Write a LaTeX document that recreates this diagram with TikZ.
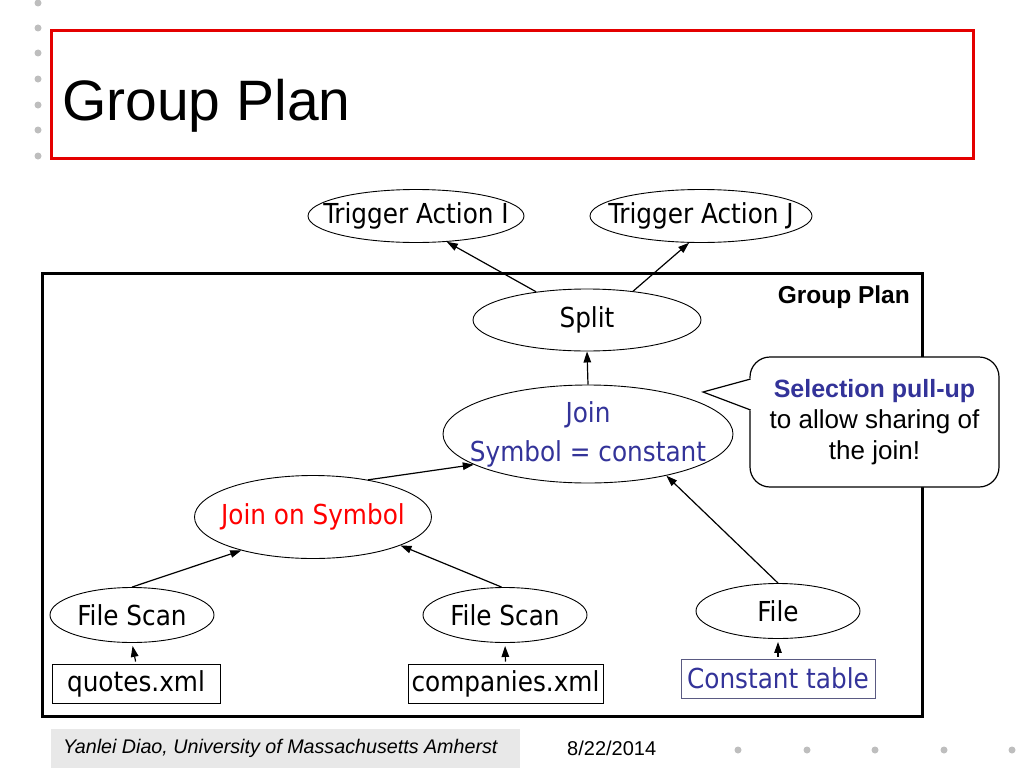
\documentclass[tikz,border=0pt]{standalone}
\usepackage{fontspec}
\setmainfont{Liberation Sans}
\newfontfamily\tah{DejaVu Sans Condensed}
\usetikzlibrary{arrows.meta,shapes.geometric}
\definecolor{jblue}{RGB}{51,51,153}
\definecolor{dotgray}{RGB}{190,190,190}
\definecolor{footgray}{RGB}{232,232,232}
\definecolor{tred}{RGB}{255,0,0}
\definecolor{boxred}{RGB}{228,0,0}
\definecolor{ctborder}{RGB}{90,90,130}
\begin{document}
\begin{tikzpicture}[x=1pt,y=-1pt,
  oval/.style={draw, ellipse, inner sep=0pt, line width=0.9pt},
  lab/.style={font=\tah\fontsize{27.5}{39}\selectfont, inner sep=0pt, align=center},
  filebox/.style={draw, rectangle, inner sep=0pt, line width=1pt, minimum height=39pt,
    font=\tah\fontsize{27.5}{30}\selectfont},
  link/.style={line width=1.2pt, -{Triangle[length=11pt,width=7.5pt]}},
  dotmark/.style={fill=dotgray}
]
\useasboundingbox (0,0) rectangle (1024,768);

% decorative dots
\foreach \yy in {3,28,53,79,105,130,156} \fill[dotmark] (38,\yy) circle (3.5pt);
\foreach \xx in {738,807,875,944,1012} \fill[dotmark] (\xx,750) circle (3.5pt);

% title
\draw[boxred, line width=3pt] (51,31) rectangle (973,158);
\node[anchor=base west, inner sep=0pt, font=\fontsize{57}{62}\selectfont] (title) at (62,120) {Group Plan};

% group box
\draw[line width=3pt] (42,273) rectangle (922,716);
\node[anchor=base east, inner sep=0pt, font=\bfseries\fontsize{24.5}{28}\selectfont] (gplabel) at (910,303) {Group Plan};

% ovals
\node[oval, minimum width=216pt, minimum height=53pt, label={[lab]center:Trigger Action I}] (tai) at (416,216) {};
\node[oval, minimum width=222pt, minimum height=53pt, label={[lab]center:Trigger Action J}] (taj) at (701,216) {};
\node[oval, minimum width=228pt, minimum height=62pt, label={[lab]center:Split}] (split) at (587,320) {};
\node[oval, minimum width=290pt, minimum height=98pt, label={[lab,text=jblue]center:Join\\Symbol = constant}] (join) at (588,434) {};
\node[oval, minimum width=237pt, minimum height=83pt, label={[lab,text=tred]center:Join on Symbol}] (jos) at (313,517) {};
\node[oval, minimum width=164pt, minimum height=55pt, label={[lab]center:File Scan}] (fs1) at (132,615) {};
\node[oval, minimum width=164pt, minimum height=55pt, label={[lab]center:File Scan}] (fs2) at (505,615) {};
\node[oval, minimum width=164pt, minimum height=55pt, label={[lab]center:File}] (file) at (778,611) {};

% file boxes
\node[filebox, minimum width=168pt] (qbox) at (136,683.5) {quotes.xml};
\node[filebox, minimum width=195pt] (cbox) at (505.5,683.5) {companies.xml};
\node[filebox, minimum width=194pt, draw=ctborder, text=jblue] (ctbox) at (778,678.5) {Constant table};

% connectors
\draw[link] (split.151) -- (tai.-40);
\draw[link] (split.32) -- (taj.-114);
\draw[link] (join.north) -- (split.south);
\draw[link] (jos.34) -- (join.195);
\draw[link] (file.north) -- (join.-28);
\draw[link] (fs1.north) -- (jos.205);
\draw[link] (fs2.97) -- (jos.-18);
\draw[link, shorten <=2pt, shorten >=3pt] (qbox.north) -- (fs1.south);
\draw[link, shorten <=2pt, shorten >=3pt] (cbox.north) -- (fs2.south);
\draw[link, shorten <=2pt, shorten >=3pt] (ctbox.north) -- (file.south);

% callout
\node[draw, rounded corners=20pt, fill=white, line width=1.2pt, minimum width=249pt,
  minimum height=130pt, align=center, font=\fontsize{26}{31}\selectfont] (call) at (874.5,422)
  {\textcolor{jblue}{\bfseries\fontsize{25}{31}\selectfont Selection pull-up}\\to allow sharing of\\the join!};
\coordinate (ptip) at (703,392);
\coordinate (pa) at (750.6,379);
\coordinate (pb) at (750.6,410);
\fill[white] (751.5,378) -- (ptip) -- (751.5,411) -- cycle;
\draw[line width=1.2pt, line join=miter] (pa) -- (ptip) -- (pb);

% footer
\fill[footgray] (51,729) rectangle (520,768);
\node[anchor=west, inner sep=0pt, font=\itshape\fontsize{19.7}{24}\selectfont] (author) at (63,748) {Yanlei Diao, University of Massachusetts Amherst};
\node[anchor=west, inner sep=0pt, font=\fontsize{20}{24}\selectfont] (date) at (567,748) {8/22/2014};
\end{tikzpicture}
\end{document}
